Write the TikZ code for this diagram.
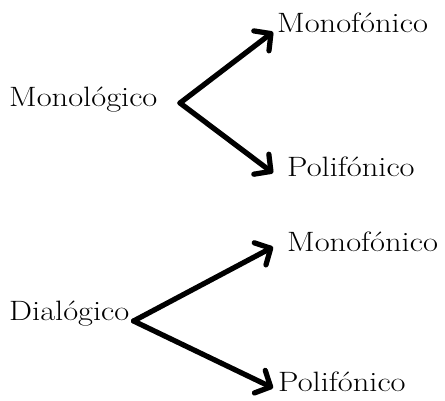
\documentclass[tikz,border=0pt]{standalone}
\usepackage{fontspec}
\usepackage{graphicx}
\usetikzlibrary{arrows.meta,calc}
\newcommand\lbltext[1]{\scalebox{1.16}[1]{#1}}
\tikzset{
  lbl/.style={anchor=base west,inner sep=0pt,font=\fontsize{28}{30}\selectfont},
  arr/.style={line width=5.2pt,line cap=round,line join=round,
    -{Straight Barb[length=12pt,width=25pt,line width=5.2pt,round]}},
  shadowarr/.style={arr,draw=black!25,opacity=0.6}
}
\begin{document}
\begin{tikzpicture}[x=1pt,y=1pt]
\useasboundingbox (0,0) rectangle (445,401);
% top group
\node[lbl] (mon) at (9,294) {\lbltext{Monológico}};
\node[lbl] (m1) at (277,368) {\lbltext{Monofónico}};
\node[lbl] (p1) at (287,224) {\lbltext{Polifónico}};
\coordinate (v1) at (180,298);
% bottom group
\node[lbl] (dia) at (9,80) {\lbltext{Dialógico}};
\node[lbl] (m2) at (287,149) {\lbltext{Monofónico}};
\node[lbl] (p2) at (278,9) {\lbltext{Polifónico}};
\coordinate (v2) at ($(dia.base east)+(4,0)$);
% shadows
\begin{scope}[shift={(1.5,-2.5)}]
\draw[shadowarr] (v1) -- ($(m1.base west)+(-4,1)$);
\draw[shadowarr] (v1) -- ($(p1.base west)+(-14,4)$);
\draw[shadowarr] (v2) -- ($(m2.base west)+(-14,5)$);
\draw[shadowarr] (v2) -- ($(p2.base west)+(-5,4)$);
\end{scope}
% arrows
\draw[arr] (v1) -- ($(m1.base west)+(-4,1)$);
\draw[arr] (v1) -- ($(p1.base west)+(-14,4)$);
\draw[arr] (v2) -- ($(m2.base west)+(-14,5)$);
\draw[arr] (v2) -- ($(p2.base west)+(-5,4)$);
\end{tikzpicture}
\end{document}
